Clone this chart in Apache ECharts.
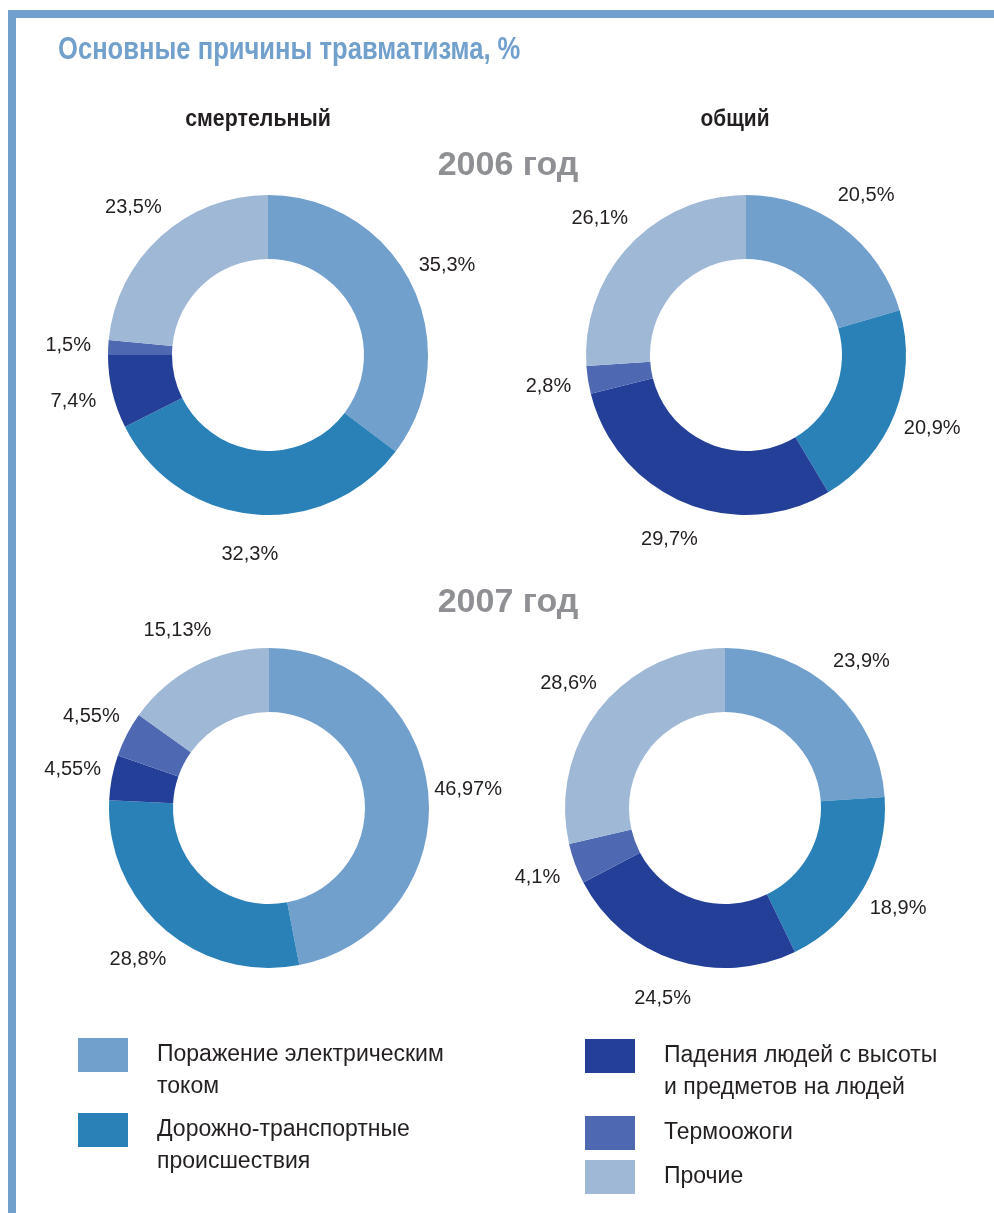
<!DOCTYPE html>
<html>
<head>
<meta charset="utf-8">
<script src="https://cdn.jsdelivr.net/npm/echarts@6/dist/echarts.min.js"></script>
<style>
  html, body { margin: 0; padding: 0; background: #fff; }
  #chart { width: 994px; height: 1213px; }
</style>
</head>
<body>
<div id="chart"></div>
<script>
const categories = [
  'Поражение электрическим\nтоком',
  'Дорожно-транспортные\nпроисшествия',
  'Падения людей с высоты\nи предметов на людей',
  'Термоожоги',
  'Прочие',
]
const colors = ['#72a0cc', '#2981b7', '#233f98', '#4e69b2', '#9eb8d6']

const fatal2006 = [35.3, 32.3, 7.4, 1.5, 23.5]
const total2006 = [20.5, 20.9, 29.7, 2.8, 26.1]
const fatal2007 = [46.97, 28.8, 4.55, 4.55, 15.13]
const total2007 = [23.9, 18.9, 24.5, 4.1, 28.6]

const FONT = "'Liberation Sans', Arial, sans-serif"
const frameColor = '#72a0cd'

const pies = [
  { values: fatal2006, center: [268, 355] },
  { values: total2006, center: [746, 355] },
  { values: fatal2007, center: [269, 808] },
  { values: total2007, center: [725, 808] },
]

function toData(values) {
  return values.map((v, i) => ({ name: categories[i], value: v }))
}

const ringSeries = pies.map((p) => ({
  type: 'pie',
  center: p.center,
  radius: [96, 160],
  startAngle: 90,
  clockwise: true,
  silent: true,
  label: { show: false },
  labelLine: { show: false },
  itemStyle: { borderWidth: 0 },
  data: toData(p.values),
}))

// transparent ring used only to place the percent labels radially
const labelSeries = pies.map((p) => ({
  type: 'pie',
  center: p.center,
  radius: [190, 204],
  startAngle: 90,
  clockwise: true,
  silent: true,
  legendHoverLink: false,
  itemStyle: { color: 'rgba(0,0,0,0)', borderWidth: 0 },
  label: {
    show: true,
    position: 'inside',
    color: '#231f20',
    fontFamily: FONT,
    fontSize: 20,
    formatter: (p) => String(p.value).replace('.', ',') + '%',
  },
  labelLine: { show: false },
  data: toData(p.values),
}))

// one legend block per entry so the two columns line up like the original
const legendSlots = [
  { idx: 0, left: 78, top: 1007 },
  { idx: 1, left: 78, top: 1082 },
  { idx: 2, left: 585, top: 1008 },
  { idx: 3, left: 585, top: 1116 },
  { idx: 4, left: 585, top: 1160 },
]

const legends = legendSlots.map((s) => ({
  orient: 'vertical',
  left: s.left,
  top: s.top,
  padding: 0,
  itemWidth: 50,
  itemHeight: 34,
  icon: 'rect',
  selectedMode: false,
  // blank first line keeps the first text line level with the swatch
  formatter: (name) => (name.indexOf('\n') >= 0 ? '\n' + name : name),
  textStyle: {
    color: '#231f20',
    fontFamily: FONT,
    fontSize: 23,
    lineHeight: 32,
    padding: [0, 0, 0, 24],
  },
  data: [categories[s.idx]],
}))

function textEl(text, x, y, size, color, align, sx) {
  return {
    type: 'text',
    x: x,
    y: y,
    scaleX: sx,
    style: {
      text: text,
      fill: color,
      font: `bold ${size}px ${FONT}`,
      align: align,
      verticalAlign: 'middle',
    },
  }
}

const chart = echarts.init(document.getElementById('chart'))
chart.setOption({
  backgroundColor: '#fff',
  animation: false,
  color: colors,
  graphic: [
    { type: 'rect', shape: { x: 8, y: 10, width: 986, height: 8 }, style: { fill: frameColor } },
    { type: 'rect', shape: { x: 8, y: 10, width: 8, height: 1203 }, style: { fill: frameColor } },
    textEl('Основные причины травматизма, %', 58, 50, 32, frameColor, 'left', 0.8),
    textEl('смертельный', 258, 119, 24, '#231f20', 'center', 0.89),
    textEl('общий', 735, 119, 24, '#231f20', 'center', 0.87),
    textEl('2006 год', 508, 166, 34, '#8f9093', 'center', 1),
    textEl('2007 год', 508, 603, 34, '#8f9093', 'center', 1),
  ],
  legend: legends,
  series: ringSeries.concat(labelSeries),
})
</script>
</body>
</html>
